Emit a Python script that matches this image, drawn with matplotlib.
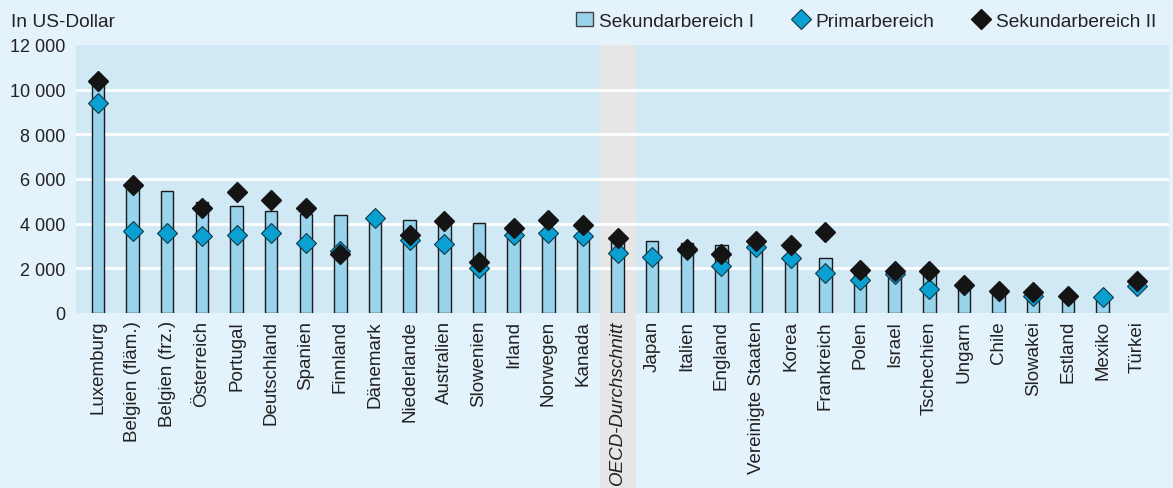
import numpy as np
import matplotlib.pyplot as plt
from matplotlib.lines import Line2D
from matplotlib.patches import Patch

plt.rcParams['font.family'] = ['Liberation Sans', 'DejaVu Sans']

laender = ["Luxemburg", "Belgien (fläm.)", "Belgien (frz.)", "Österreich", "Portugal",
           "Deutschland", "Spanien", "Finnland", "Dänemark", "Niederlande", "Australien",
           "Slowenien", "Irland", "Norwegen", "Kanada", "OECD-Durchschnitt", "Japan",
           "Italien", "England", "Vereinigte Staaten", "Korea", "Frankreich", "Polen",
           "Israel", "Tschechien", "Ungarn", "Chile", "Slowakei", "Estland", "Mexiko", "Türkei"]

nan = np.nan
sek1 = [10330, 5590, 5440, 4960, 4810, 4560, 4410, 4380, 4280, 4170, 4020,
        4040, 3750, 3680, 3530, 3230, 3210, 3140, 3020, 3000, 2560, 2450, 1780,
        1750, 1800, 1140, 920, 740, 650, 620, nan]
primar = [9390, 3650, 3560, 3440, 3510, 3570, 3110, 2780, 4250, 3270, 3080,
          2020, 3500, 3590, 3450, 2680, 2510, 2830, 2110, 2970, 2450, 1790, 1480,
          1730, 1070, nan, nan, 770, nan, 700, 1190]
sek2 = [10390, 5740, nan, 4680, 5400, 5040, 4710, 2650, nan, 3480, 4100,
        2260, 3800, 4170, 3920, 3350, nan, 2860, 2620, 3230, 3020, 3630, 1930,
        1880, 1870, 1240, 1000, 920, 740, nan, 1440]

fig = plt.figure(figsize=(11.73, 4.89), dpi=100, facecolor='#e4f2fb')
ax = fig.add_axes([0.0652, 0.358, 0.9314, 0.548])
ax.set_facecolor('#d1e8f5')

x = np.arange(len(laender))
oecd = laender.index("OECD-Durchschnitt")
ax.axvspan(oecd - 0.5, oecd + 0.5, ymin=-0.66, ymax=1, color='#e6e6e6',
           clip_on=False, zorder=0.5)

for yv in range(2000, 12000, 2000):
    ax.axhline(yv, color='white', lw=2, zorder=1)

ax.bar(x, sek1, width=0.36, color='#9ad3ec', edgecolor='#1a1a1a', lw=1, zorder=2)
ax.plot(x, primar, 'D', ms=10.5, color='#0aa0d2', mec='#143848', mew=0.8, zorder=3)
ax.plot(x, sek2, 'D', ms=10.5, color='#141414', mec='#141414', zorder=4)

ax.set_xlim(-0.62, 30.92)
ax.set_ylim(0, 12000)
ax.set_yticks(range(0, 12001, 2000))
ax.set_yticklabels([f"{v:,}".replace(",", " ") for v in range(0, 12001, 2000)],
                   fontsize=13, color='#222222')
ax.set_xticks(x)
ax.set_xticklabels(laender, rotation=90, fontsize=13.5, color='#222222')
ax.get_xticklabels()[oecd].set_style('italic')
ax.tick_params(length=0)
ax.tick_params(axis='y', pad=8)
ax.tick_params(axis='x', pad=5)
for s in ax.spines.values():
    s.set_visible(False)

fig.text(0.009, 0.955, "In US-Dollar", fontsize=13.8, color='#222222', va='center')

handles = [Patch(facecolor='#9ad3ec', edgecolor='#444444', lw=1),
           Line2D([], [], marker='D', ls='none', ms=10.5, color='#0aa0d2', mec='#143848', mew=0.8),
           Line2D([], [], marker='D', ls='none', ms=10.5, color='#141414')]
fig.legend(handles, ["Sekundarbereich I", "Primarbereich", "Sekundarbereich II"],
           loc='center right', bbox_to_anchor=(0.992, 0.955), ncol=3, frameon=False,
           fontsize=13.8, handlelength=0.9, handletextpad=0.3, columnspacing=2.0,
           labelcolor='#222222', borderaxespad=0)

fig.savefig("out.png", dpi=100, facecolor=fig.get_facecolor())
